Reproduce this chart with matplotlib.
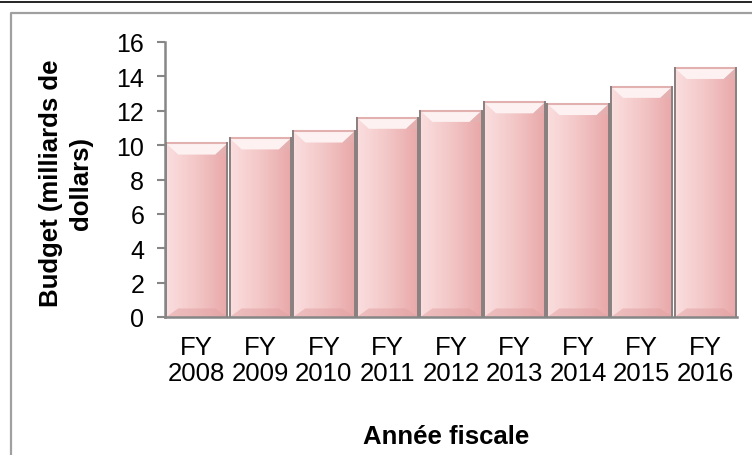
import numpy as np
import matplotlib.pyplot as plt
from matplotlib.colors import LinearSegmentedColormap
from matplotlib.patches import Polygon

years = ["FY\n2008", "FY\n2009", "FY\n2010", "FY\n2011", "FY\n2012",
         "FY\n2013", "FY\n2014", "FY\n2015", "FY\n2016"]
budget = [10.1, 10.4, 10.8, 11.6, 12.0, 12.5, 12.4, 13.4, 14.5]
yticks = [0, 2, 4, 6, 8, 10, 12, 14, 16]

plt.rcParams['font.family'] = ['Liberation Sans', 'DejaVu Sans']

fig = plt.figure(figsize=(7.52, 4.56), dpi=100)
ax = fig.add_axes([165 / 752, 1 - 318 / 456, 572 / 752, 275 / 456])

x = np.arange(len(budget))
bars = ax.bar(x, budget, width=0.965, color='#f0c0c0', edgecolor='#877d7d',
              linewidth=1.3, zorder=2)

pink = LinearSegmentedColormap.from_list('pink', ['#fbdedf', '#f3c6c6', '#e9a8a9'])
grad = np.tile(np.linspace(0, 1, 64), (32, 1))
bevel_x = 0.19
for b in bars:
    x0, w, h = b.get_x(), b.get_width(), b.get_height()
    im = ax.imshow(grad, cmap=pink, aspect='auto', zorder=2.1,
                   extent=[x0, x0 + w, 0, h], interpolation='bilinear')
    im.set_clip_path(b)
    # top bevel
    ax.add_patch(Polygon([(x0, h), (x0 + w, h), (x0 + w - bevel_x, h - 0.65),
                          (x0 + bevel_x, h - 0.65)], closed=True,
                         facecolor='#fdf1f1', edgecolor='none', zorder=2.2))
    ax.add_patch(Polygon([(x0 + w - bevel_x, h - 0.65), (x0 + w, h),
                          (x0 + w, h - 0.65)], closed=True,
                         facecolor='#e2b3b3', edgecolor='none', alpha=0.6, zorder=2.2))
    # bottom bevel
    ax.add_patch(Polygon([(x0, 0), (x0 + w, 0), (x0 + w - bevel_x, 0.5),
                          (x0 + bevel_x, 0.5)], closed=True,
                         facecolor='#e2a1a2', edgecolor='none', alpha=0.5, zorder=2.2))
    ax.plot([x0, x0 + w], [h, h], color='#e3b0b0', lw=1.5, zorder=2.3)
    ax.plot([x0, x0], [0, h], color='#8a8080', lw=1.4, zorder=2.4)
    ax.plot([x0 + w, x0 + w], [0, h], color='#8a8080', lw=1.4, zorder=2.4)

ax.set_xlim(-0.5, len(budget) - 0.5)
ax.set_ylim(0, 16)
ax.set_yticks(yticks)
ax.set_xticks(x)
ax.set_xticklabels(years, fontsize=18.5, linespacing=1.08)
ax.tick_params(axis='y', labelsize=18, length=6, width=1.5, color='#868686', pad=9)
ax.tick_params(axis='x', length=0, pad=13)

for s in ['top', 'right']:
    ax.spines[s].set_visible(False)
for s in ['left', 'bottom']:
    ax.spines[s].set_color('#868686')
    ax.spines[s].set_linewidth(1.8)

fig.text(66 / 752, 1 - 183 / 456, "Budget (milliards de\ndollars)", rotation=90,
         ha='center', va='center', multialignment='center', fontsize=18.5,
         fontweight='bold', linespacing=1.3)
fig.text(446 / 752, 1 - 437 / 456, "Année fiscale", ha='center', va='center',
         fontsize=18.5, fontweight='bold')

# chart frame
fig.add_artist(plt.Line2D([0, 1], [1 - 2.5 / 456] * 2, transform=fig.transFigure,
                          color='black', lw=1.2))
fig.add_artist(plt.Line2D([10.5 / 752, 10.5 / 752, 1], [0, 1 - 13.5 / 456, 1 - 13.5 / 456],
                          transform=fig.transFigure, color='#a0a0a0', lw=1.6))

fig.savefig('out.png', dpi=100)
